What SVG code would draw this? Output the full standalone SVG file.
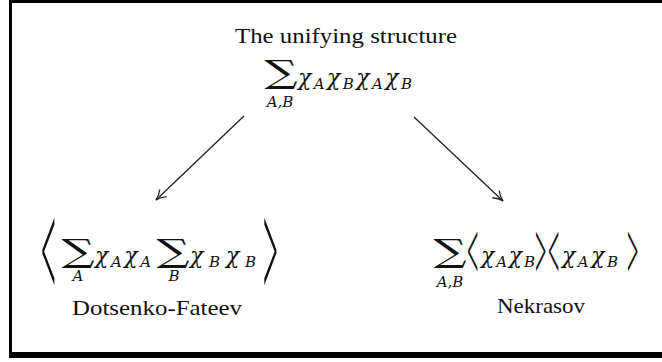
<svg xmlns="http://www.w3.org/2000/svg" width="662" height="362" viewBox="0 0 662 362">
<defs>
<style>
.t{font-family:"Liberation Serif","Times New Roman",serif;font-size:22px;fill:#111}
.m{font-family:"DejaVu Serif",serif;font-style:italic;font-size:22px;fill:#111}
.s{font-size:15px}
.sub{font-family:"DejaVu Serif",serif;font-style:italic;font-size:15px;fill:#111;text-anchor:middle}
.sum{font-family:"DejaVu Serif",serif;font-size:32px;fill:#111;text-anchor:middle}
.br{font-family:"Liberation Serif","Times New Roman",serif;fill:#111}
.edge{stroke:#222;stroke-width:1.3;fill:none}
</style>
<marker id="ah" viewBox="0 0 12 12" refX="11" refY="6" markerWidth="12" markerHeight="12" markerUnits="userSpaceOnUse" orient="auto">
<path d="M1,1 Q6,5 11,6 Q6,7 1,11" fill="none" stroke="#222" stroke-width="1.3"/>
</marker>
</defs>
<rect width="662" height="362" fill="#fff"/>
<g id="frame" fill="#000">
<rect x="9" y="0" width="653" height="3"/>
<rect x="9" y="0" width="3" height="358"/>
<rect x="9" y="352" width="653" height="6"/>
</g>
<g id="connectors">
<line class="edge" x1="244" y1="116" x2="156" y2="200" marker-end="url(#ah)"/>
<line class="edge" x1="414" y1="117" x2="503" y2="201" marker-end="url(#ah)"/>
</g>
<g id="top">
<text class="t" x="346" y="43" text-anchor="middle" textLength="222" lengthAdjust="spacingAndGlyphs">The unifying structure</text>
<text class="sum" transform="translate(281,83) scale(1.45,1)">∑</text>
<text class="sub" x="280" y="107">A,B</text>
<text class="m" x="298" y="85" textLength="114" lengthAdjust="spacing">χ<tspan class="s" dy="4">A</tspan><tspan dy="-4">χ</tspan><tspan class="s" dy="4">B</tspan><tspan dy="-4">χ</tspan><tspan class="s" dy="4">A</tspan><tspan dy="-4">χ</tspan><tspan class="s" dy="4">B</tspan></text>
</g>
<g id="dotsenko">
<text class="br" font-size="26" transform="translate(41,298) scale(1,5.4)">&lt;</text>
<text class="sum" transform="translate(78,262) scale(1.45,1)">∑</text>
<text class="sub" x="78" y="281">A</text>
<text class="m" x="95" y="263" textLength="56" lengthAdjust="spacing">χ<tspan class="s" dy="4">A</tspan><tspan dy="-4">χ</tspan><tspan class="s" dy="4">A</tspan></text>
<text class="sum" transform="translate(173,262) scale(1.45,1)">∑</text>
<text class="sub" x="174" y="281">B</text>
<text class="m" x="190" y="263" textLength="66" lengthAdjust="spacing">χ<tspan class="s" dy="4">B</tspan><tspan dy="-4">χ</tspan><tspan class="s" dy="4">B</tspan></text>
<text class="br" font-size="26" transform="translate(263,298) scale(1,5.4)">&gt;</text>
<text class="t" x="157" y="315" text-anchor="middle" textLength="170" lengthAdjust="spacingAndGlyphs">Dotsenko-Fateev</text>
</g>
<g id="nekrasov">
<text class="sum" transform="translate(450,262) scale(1.45,1)">∑</text>
<text class="sub" x="450" y="287">A,B</text>
<text class="br" font-size="20" transform="translate(467,279) scale(1,4.1)">&lt;</text>
<text class="m" x="481" y="263" textLength="54" lengthAdjust="spacing">χ<tspan class="s" dy="4">A</tspan><tspan dy="-4">χ</tspan><tspan class="s" dy="4">B</tspan></text>
<text class="br" font-size="20" transform="translate(535,279) scale(1,4.1)">&gt;</text>
<text class="br" font-size="20" transform="translate(548,279) scale(1,4.1)">&lt;</text>
<text class="m" x="562" y="263" textLength="56" lengthAdjust="spacing">χ<tspan class="s" dy="4">A</tspan><tspan dy="-4">χ</tspan><tspan class="s" dy="4">B</tspan></text>
<text class="br" font-size="20" transform="translate(627,279) scale(1,4.1)">&gt;</text>
<text class="t" x="541" y="313" text-anchor="middle" textLength="88" lengthAdjust="spacingAndGlyphs">Nekrasov</text>
</g>
</svg>
